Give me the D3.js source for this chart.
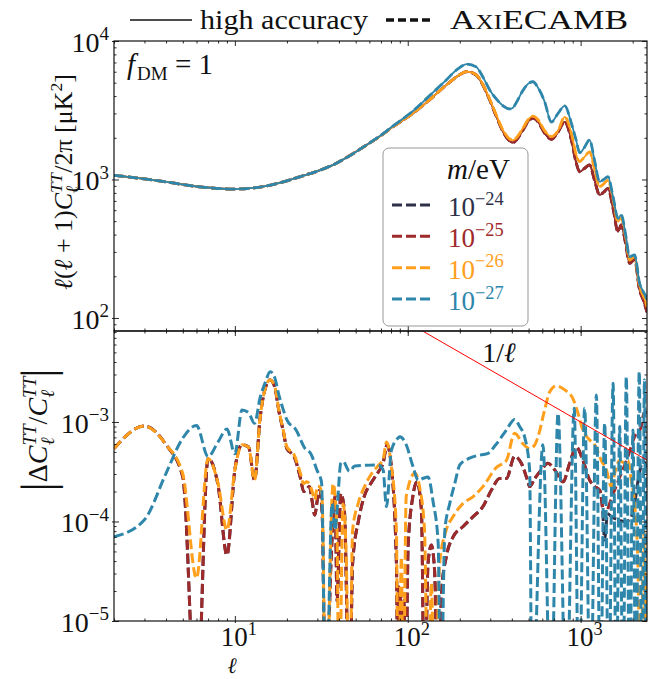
<!DOCTYPE html>
<html>
<head>
<meta charset="utf-8">
<script src="https://cdn.jsdelivr.net/npm/d3@7"></script>
<style>
  body { margin: 0; background: #fff; }
  svg { display: block; }
  text { font-family: "Liberation Serif", "DejaVu Serif", serif; fill: #111; }
</style>
</head>
<body>
<div id="chart"></div>
<script>
// ---- data ----
const massLabels = ["\u221224", "\u221225", "\u221226", "\u221227"];
const colors = ["#2d3047", "#9e2a2b", "#ff9f1c", "#2e86ab"];

// top panel: l(l+1)C_l/2pi [muK^2]
const topEll = [2,3,4,6,10,15,24,37,58,69,82,107,130,167,195,220,249,272,298,326,356,389,406,425,464,496,530,567,619,677,740,809,884,944,987,1050,1127,1200,1288,1360,1439,1540,1644,1718,1820,1920,2051,2193,2300,2400,2420];
const topM24 = [1070,1010,960,890,853,895,1050,1275,1780,2050,2400,3000,3650,4800,5600,6000,5680,4810,3750,2840,2210,1896,1845,1930,2275,2610,2770,2610,2160,1950,2200,2610,1930,1310,1137,1200,1273,1000,773,810,863,620,420,469,345,248,265,159,135,114,110];
const topM25 = [1070,1010,960,890,853,895,1050,1275,1780,2050,2400,3000,3650,4800,5600,6000,5680,4810,3750,2840,2210,1896,1845,1930,2275,2610,2770,2610,2160,1950,2200,2610,1930,1310,1137,1200,1273,1000,773,810,863,620,420,469,345,248,265,159,135,114,110];
const topM26 = [1070,1010,960,890,853,895,1050,1275,1780,2050,2400,3000,3650,4800,5600,6000,5700,4850,3800,2900,2260,1960,1920,2000,2350,2700,2870,2700,2250,2040,2250,2830,2150,1500,1345,1450,1585,1200,887,930,990,720,496,525,385,262,277,168,145,125,120];
const topM27 = [1070,1010,960,890,853,895,1050,1275,1780,2060,2430,3120,3900,5230,6300,6800,6500,5500,4430,3800,3400,3230,3300,3600,4400,4900,5080,4600,3650,2600,3000,3400,2550,1900,1560,1700,1930,1400,963,1000,1048,750,525,555,400,277,285,178,155,139,133];

// bottom panel: |dC/C|  (values of 1e-6 sit below the axis)
const botEllM25 = [2,3,4,5,6,7,8,9,10,11,12,13,14,15,16,17,18,19,20,22,24,25,26,27,28,29,30,31,32,33.5,36,38,39,41,43,46,48,52,56,62,68,72,76,80,86,88,89,90,91,93,95,97,100.5,107,113,120,125,131,137,143,150,157,167,183,209,239,272,305,340,372,415,454,496,507,542,593,647,708,791,864,944,1031,1127,1205,1288,1377,1472,1573,1719,1878,2052,2244,2323,2420];
const botM25 = [5.4e-4,9.1e-4,5.9e-4,2.8e-4,1e-6,4.3e-4,2.3e-4,4.6e-5,3.3e-4,5.9e-4,5.6e-4,2.6e-4,1.1e-3,2.18e-3,2.64e-3,2.26e-3,1.27e-3,8.3e-4,5.4e-4,4.5e-4,2.7e-4,2.0e-4,2.1e-4,2.25e-4,1.6e-4,1.16e-4,1.65e-4,2.07e-4,1.2e-4,1e-6,4e-5,1.8e-4,1.6e-5,1.9e-4,1.3e-4,1e-6,3.8e-5,1.04e-4,1.78e-4,2.5e-4,3.2e-4,3.85e-4,5.9e-4,3.85e-4,3.8e-5,1e-6,2.2e-5,6e-6,2e-5,1e-6,1.6e-5,1e-6,5.6e-5,1.78e-4,2.5e-4,1.3e-4,1e-6,3.8e-5,5.8e-5,3.2e-5,1e-6,2e-5,4.4e-5,7e-5,8.9e-5,1.12e-4,1.41e-4,2.07e-4,2.7e-4,2.7e-4,4.5e-4,3.85e-4,2.5e-4,2.24e-4,2.7e-4,3.3e-4,3.85e-4,3.3e-4,2.5e-4,3.85e-4,5.6e-4,4.1e-4,2.6e-4,2.24e-4,2.07e-4,1.12e-4,1.52e-4,2.07e-4,3.05e-4,4.5e-4,7.1e-4,9e-4,1.22e-3,1.25e-3];

// 10^-24 follows 10^-25 up to l~1300, then splits off
const botEllM24 = botEllM25.slice(0, 85).concat([1340,1377,1430,1504,1644,1796,1920,2052,2150,2300,2420]);
const botM24 = botM25.slice(0, 85).concat([1.3e-4,6.5e-5,1.2e-4,1.12e-4,1.04e-4,1.0e-4,1.04e-4,1.5e-4,2.6e-4,4.0e-4,3.5e-4]);

const botEllM26 = [2,3,4,5,6,7,8,9,10,11,12,13,14,15,16,17,18,19,20,22,24,25,26,27,28,29,30,31,32,33.6,37,39,40,42.3,44,46,48,51.7,56,62,68,72,75.5,80,86,88,92,94,98,110,117,125,131,137,143,153,167,183,209,239,272,326,372,415,465,507,540,567,619,662,722,809,905,966,1030,1128,1205,1318,1410,1504,1573,1682,1796,1878,1963,2052,2144,2220,2320,2380,2420];
const botM26 = [5.4e-4,9.1e-4,5.9e-4,3.0e-4,2.7e-5,4.3e-4,2.4e-4,8.2e-5,3.3e-4,5.9e-4,5.6e-4,2.6e-4,1.1e-3,2.18e-3,2.64e-3,2.3e-3,1.3e-3,8.5e-4,5.6e-4,4.7e-4,3.0e-4,2.4e-4,2.5e-4,2.4e-4,2.0e-4,1.65e-4,2.25e-4,2.24e-4,1.6e-4,1e-6,2.4e-4,8e-5,1e-6,1.5e-4,5e-5,1e-6,8.2e-5,1.52e-4,2.2e-4,3.05e-4,3.7e-4,4.2e-4,6.3e-4,3.85e-4,8.2e-5,1e-6,4.4e-5,1e-6,1.78e-4,3.05e-4,2.24e-4,8.2e-5,1e-6,2.4e-5,1e-6,3.8e-5,8.2e-5,1.12e-4,1.52e-4,1.78e-4,2.24e-4,3.5e-4,4.1e-4,7.7e-4,6.0e-4,5.4e-4,5.8e-4,7.1e-4,1.32e-3,2.0e-3,2.3e-3,2.1e-3,1.7e-3,1.22e-3,8.3e-4,6.6e-4,5.9e-4,4.1e-4,3.3e-4,2.24e-4,3.05e-4,4.1e-4,3.85e-4,4.1e-4,2.6e-4,1.52e-4,3.8e-5,1e-6,8.2e-5,1e-6,3e-5];

const botEllM27 = [2,3,4,5,6,7,8,9,10,11,12,13,14,15,16,17,18,19,20,22.6,25.5,27.5,29.8,31.7,33.6,36.5,38,39,41,42.3,46,49.4,67.4,72,75.3,80.5,88,90,98,107,115,122,131,140,150,155,164,175,187,200,226,253,289,323,372,415,444,475,507,523,605,673,740,826,918,978,1055,1140,1233,1300,1377,1455,1540,1608,1682,1758,1837,1920,2007,2087,2182,2265,2340,2400,2420];
const botM27 = [7.0e-5,1.04e-4,3.05e-4,6.9e-4,9.2e-4,4.5e-4,6.3e-4,8.5e-4,4.8e-4,1.32e-3,1.24e-3,9.7e-4,1.75e-3,2.5e-3,3.2e-3,2.8e-3,1.85e-3,1.35e-3,1.05e-3,8.3e-4,5.4e-4,4.8e-4,3.3e-4,2.5e-4,1e-6,1.52e-4,8.2e-5,1.3e-4,3.85e-4,4.0e-4,3.2e-4,3.6e-4,3.7e-4,3.3e-4,1.41e-4,5.2e-4,6.9e-4,7.1e-4,5.9e-4,3.6e-4,2.6e-4,2.7e-4,2.8e-4,1.6e-4,6e-5,1e-6,8.2e-5,1.52e-4,2.4e-4,3.7e-4,4.3e-4,4.6e-4,4.8e-4,5.9e-4,8.3e-4,1.06e-3,9e-4,7e-4,3.3e-4,1e-6,5.9e-4,1e-6,1.22e-3,1e-6,1.37e-3,1e-6,1.37e-3,1e-6,1.87e-3,1e-6,9.7e-4,1e-6,2.45e-3,1e-6,9e-4,1e-6,2.85e-3,1e-6,8.3e-4,1e-6,3.2e-3,1e-6,2.64e-3,1e-6,3e-4];

// the 1/l guide line
const guideEll = [100, 2420];
const guideVal = [1e-2, 4.13e-4];

// ---- layout ----
const W = 649, H = 679;
const L = 114, R = 647;
const x = d3.scaleLog().domain([2, 2420]).range([L, R]);
const yTop = d3.scaleLog().domain([80.5, 1e4]).range([331, 41]);
const yBot = d3.scaleLog().domain([1e-5, 8.2e-3]).range([621, 331]);

const svg = d3.select("#chart").append("svg")
  .attr("width", W).attr("height", H)
  .style("background", "#fff");

const defs = svg.append("defs");
[["clipTop", yTop], ["clipBot", yBot]].forEach(([id, y]) => {
  const [yb, yt] = y.range();
  defs.append("clipPath").attr("id", id).append("rect")
    .attr("x", L).attr("y", yt).attr("width", R - L).attr("height", yb - yt);
});

function zip(a, b) { return a.map((v, i) => [v, b[i]]); }

// ---- top panel curves ----
const lineTop = d3.line().x(d => x(d[0])).y(d => yTop(d[1])).curve(d3.curveMonotoneX);
const gTop = svg.append("g").attr("clip-path", "url(#clipTop)");
[topM24, topM25, topM26, topM27].forEach((vals, i) => {
  const pts = zip(topEll, vals);
  gTop.append("path").attr("d", lineTop(pts))
    .attr("fill", "none").attr("stroke", colors[i]).attr("stroke-width", 1.8);
  gTop.append("path").attr("d", lineTop(pts))
    .attr("fill", "none").attr("stroke", colors[i]).attr("stroke-width", 2.8)
    .attr("stroke-dasharray", "10,4");
});

// ---- bottom panel curves ----
const lineBot = d3.line().x(d => x(d[0])).y(d => yBot(d[1])).curve(d3.curveMonotoneX);
const gBot = svg.append("g").attr("clip-path", "url(#clipBot)");
[[botEllM24, botM24], [botEllM25, botM25], [botEllM26, botM26], [botEllM27, botM27]].forEach(([ell, vals], i) => {
  gBot.append("path").attr("d", lineBot(zip(ell, vals)))
    .attr("fill", "none").attr("stroke", colors[i]).attr("stroke-width", 3)
    .attr("stroke-dasharray", "10,4");
});
gBot.append("path")
  .attr("d", d3.line().x(d => x(d[0])).y(d => yBot(d[1]))(zip(guideEll, guideVal)))
  .attr("fill", "none").attr("stroke", "#ff0000").attr("stroke-width", 1);

// ---- axes / ticks ----
function splitTicks(sc) {
  const all = sc.ticks();
  const major = all.filter(v => Math.abs(Math.log10(v) - Math.round(Math.log10(v))) < 1e-6);
  const minor = all.filter(v => !major.includes(v));
  return [major, minor];
}

function drawFrame(y) {
  const [yb, yt] = y.range();
  const [xM, xm] = splitTicks(x);
  const [yM, ym] = splitTicks(y);
  const g = svg.append("g");
  const sides = [
    [() => d3.axisBottom(x), `translate(0,${yb})`, xM, xm],
    [() => d3.axisTop(x), `translate(0,${yt})`, xM, xm],
    [() => d3.axisLeft(y), `translate(${L},0)`, yM, ym],
    [() => d3.axisRight(y), `translate(${R},0)`, yM, ym]
  ];
  sides.forEach(([mk, tr, M, m]) => {
    g.append("g").attr("transform", tr).call(mk().tickValues(M).tickSize(-5).tickFormat(""));
    g.append("g").attr("transform", tr).call(mk().tickValues(m).tickSize(-2.5).tickFormat(""));
  });
  // small outward stubs on major ticks, left and bottom
  g.append("g").attr("transform", `translate(${L},0)`).call(d3.axisLeft(y).tickValues(yM).tickSize(2).tickFormat(""));
  g.append("g").attr("transform", `translate(0,${yb})`).call(d3.axisBottom(x).tickValues(xM).tickSize(2).tickFormat(""));
  g.selectAll(".domain").remove();
  g.selectAll("line").attr("stroke", "#111").attr("stroke-width", 0.9);
  g.append("rect").attr("x", L).attr("y", yt).attr("width", R - L).attr("height", yb - yt)
    .attr("fill", "none").attr("stroke", "#111").attr("stroke-width", 1.2);
  return yM;
}

function powText(sel, exp, fs) {
  sel.append("tspan").text("10");
  sel.append("tspan").attr("font-size", fs * 0.68).attr("dy", -fs * 0.42).text(exp);
}

const topMajors = drawFrame(yTop);
const botMajors = drawFrame(yBot);

const FS = 28;
topMajors.forEach(v => {
  const t = svg.append("text").attr("x", L - 5).attr("y", yTop(v) + 11)
    .attr("text-anchor", "end").attr("font-size", FS);
  powText(t, String(Math.round(Math.log10(v))), FS);
});
botMajors.forEach(v => {
  const t = svg.append("text").attr("x", L - 5).attr("y", yBot(v) + 11)
    .attr("text-anchor", "end").attr("font-size", FS);
  powText(t, "\u2212" + String(-Math.round(Math.log10(v))), FS);
});
splitTicks(x)[0].forEach(v => {
  const t = svg.append("text").attr("x", x(v) + 4).attr("y", 646)
    .attr("text-anchor", "middle").attr("font-size", 27);
  powText(t, String(Math.round(Math.log10(v))), 27);
});

// x label
svg.append("text").attr("x", 232).attr("y", 673).attr("text-anchor", "middle")
  .attr("font-size", 22).attr("font-style", "italic").text("\u2113");

// top y label: l(l+1) C_l^TT / 2pi [muK^2]
{
  const fs = 26, s = fs * 0.68;
  const t = svg.append("text").attr("transform", "translate(72,182) rotate(-90)")
    .attr("text-anchor", "middle").attr("font-size", fs);
  t.append("tspan").attr("font-style", "italic").text("\u2113");
  t.append("tspan").text("(");
  t.append("tspan").attr("font-style", "italic").text("\u2113");
  t.append("tspan").text(" + 1)");
  t.append("tspan").attr("font-style", "italic").text("C");
  t.append("tspan").attr("font-style", "italic").attr("font-size", s).attr("dy", -10).text("TT");
  t.append("tspan").attr("font-style", "italic").attr("font-size", s).attr("dx", -20).attr("dy", 16).text("\u2113");
  t.append("tspan").attr("dx", 13).attr("dy", -6).text("/2\u03c0 [\u03bcK");
  t.append("tspan").attr("font-size", s).attr("dy", -10).text("2");
  t.append("tspan").attr("dy", 10).text("]");
}

// bottom y label: |dC_l^TT / C_l^TT|
{
  const fs = 28, s = fs * 0.68;
  const t = svg.append("text").attr("transform", "translate(47,430) rotate(-90)")
    .attr("text-anchor", "middle").attr("font-size", fs);
  t.append("tspan").attr("font-size", 46).attr("dy", 6).text("|");
  t.append("tspan").attr("dy", -6).text("\u0394");
  t.append("tspan").attr("font-style", "italic").text("C");
  t.append("tspan").attr("font-style", "italic").attr("font-size", s).attr("dy", -11).text("TT");
  t.append("tspan").attr("font-style", "italic").attr("font-size", s).attr("dx", -21).attr("dy", 18).text("\u2113");
  t.append("tspan").attr("dx", 13).attr("dy", -7).text("/");
  t.append("tspan").attr("font-style", "italic").text("C");
  t.append("tspan").attr("font-style", "italic").attr("font-size", s).attr("dy", -11).text("TT");
  t.append("tspan").attr("font-style", "italic").attr("font-size", s).attr("dx", -21).attr("dy", 18).text("\u2113");
  t.append("tspan").attr("font-size", 46).attr("dx", 12).attr("dy", -1).text("|");
}

// f_DM = 1
{
  const t = svg.append("text").attr("x", 127).attr("y", 74).attr("font-size", 29);
  t.append("tspan").attr("font-style", "italic").text("f");
  t.append("tspan").attr("font-size", 19).attr("dx", 2).attr("dy", 6).text("DM");
  t.append("tspan").attr("dy", -6).text(" = 1");
}

// 1/l label
{
  const t = svg.append("text").attr("x", 499).attr("y", 362).attr("text-anchor", "middle").attr("font-size", 28);
  t.append("tspan").text("1/");
  t.append("tspan").attr("font-style", "italic").text("\u2113");
}

// top legend (line styles)
svg.append("line").attr("x1", 130).attr("x2", 192).attr("y1", 20).attr("y2", 20)
  .attr("stroke", "#111").attr("stroke-width", 1.5);
svg.append("text").attr("x", 200).attr("y", 29).attr("font-size", 28)
  .attr("textLength", 168).attr("lengthAdjust", "spacingAndGlyphs").text("high accuracy");
svg.append("line").attr("x1", 386).attr("x2", 432).attr("y1", 20).attr("y2", 20)
  .attr("stroke", "#111").attr("stroke-width", 3.5).attr("stroke-dasharray", "8,4");
svg.append("text").attr("x", 450).attr("y", 29).attr("font-size", 28)
  .attr("font-variant", "small-caps")
  .attr("textLength", 178).attr("lengthAdjust", "spacingAndGlyphs").text("AxiECAMB");

// mass legend
{
  const g = svg.append("g");
  g.append("rect").attr("x", 383).attr("y", 148).attr("width", 145).attr("height", 178)
    .attr("rx", 6).attr("fill", "#fff").attr("fill-opacity", 0.85)
    .attr("stroke", "#999").attr("stroke-width", 1);
  const tt = g.append("text").attr("x", 447).attr("y", 179).attr("font-size", 29);
  tt.append("tspan").attr("font-style", "italic").text("m");
  tt.append("tspan").text("/eV");
  const rowY = d3.scalePoint().domain(massLabels).range([205, 299]);
  massLabels.forEach((m, i) => {
    const yy = rowY(m);
    g.append("line").attr("x1", 392).attr("x2", 433).attr("y1", yy).attr("y2", yy)
      .attr("stroke", colors[i]).attr("stroke-width", 3).attr("stroke-dasharray", "10,4");
    const t = g.append("text").attr("x", 448).attr("y", yy + 11).attr("font-size", 27)
      .style("fill", colors[i]);
    powText(t, m, 27);
  });
}
</script>
</body>
</html>
